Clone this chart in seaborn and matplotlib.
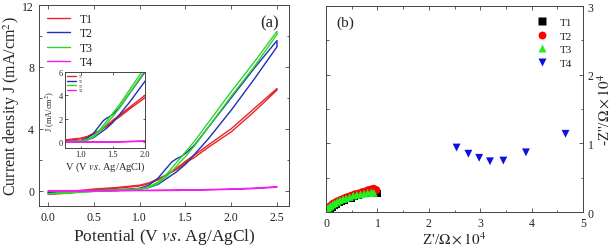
import numpy as np
import pandas as pd
import seaborn as sns
import matplotlib.pyplot as plt
from matplotlib.ticker import MultipleLocator

sns.set_style("ticks")
plt.rcParams['font.family'] = ['Liberation Serif', 'DejaVu Serif']
plt.rcParams['mathtext.fontset'] = 'stix'

# ---- CV data (a): forward scan then reverse scan ----
v_fwd = [0.0, 0.25, 0.5, 0.75, 1.0, 1.1, 1.2, 1.3, 1.35, 1.4, 1.45, 1.5, 1.6, 1.75, 2.0, 2.25, 2.5]
v_rev = v_fwd[::-1]

t1_fwd = [-0.15, -0.05, 0.1, 0.2, 0.35, 0.5, 0.75, 1.05, 1.25, 1.45, 1.65, 1.9, 2.3, 2.95, 4.0, 5.3, 6.6]
t1_rev = [6.5, 5.1, 3.8, 2.8, 2.15, 1.8, 1.55, 1.35, 1.2, 1.0, 0.7, 0.45, 0.3, 0.15, 0.05, -0.15, -0.25]

t2_fwd = [-0.1, -0.05, 0.0, 0.05, 0.15, 0.35, 0.8, 1.5, 1.85, 2.05, 2.2, 2.4, 2.95, 4.1, 6.0, 7.9, 9.7]
t2_rev = [9.3, 7.2, 5.2, 3.35, 2.35, 1.7, 1.45, 1.2, 1.0, 0.8, 0.4, 0.2, 0.1, 0.0, -0.05, -0.1, -0.1]

t3_fwd = [-0.2, -0.1, 0.0, 0.05, 0.1, 0.25, 0.55, 1.1, 1.45, 1.8, 2.15, 2.5, 3.2, 4.4, 6.4, 8.3, 10.3]
t3_rev = [10.1, 8.0, 6.1, 4.1, 2.9, 2.2, 1.9, 1.55, 1.25, 0.95, 0.45, 0.2, 0.1, 0.0, -0.05, -0.15, -0.2]

t4_fwd = [0.0, 0.0, 0.01, 0.01, 0.02, 0.02, 0.03, 0.03, 0.03, 0.04, 0.04, 0.04, 0.05, 0.07, 0.1, 0.16, 0.25]
t4_rev = [0.22, 0.13, 0.08, 0.05, 0.03, 0.02, 0.02, 0.01, 0.01, 0.01, 0.0, 0.0, 0.0, -0.01, -0.02, -0.03, -0.05]

# ---- EIS data (b), Z' and -Z'' in units of 1e4 ohm ----
t1_zr = [0.02, 0.05, 0.08, 0.12, 0.16, 0.2, 0.25, 0.3, 0.36, 0.42, 0.48, 0.55, 0.62, 0.7, 0.78, 0.86, 0.93, 1.0]
t1_zi = [0.02, 0.04, 0.06, 0.08, 0.1, 0.12, 0.14, 0.16, 0.18, 0.2, 0.21, 0.23, 0.25, 0.27, 0.28, 0.29, 0.29, 0.27]
t2_zr = [0.02, 0.05, 0.09, 0.13, 0.18, 0.23, 0.29, 0.35, 0.42, 0.49, 0.56, 0.63, 0.7, 0.76, 0.82, 0.88, 0.93, 0.98]
t2_zi = [0.04, 0.07, 0.09, 0.12, 0.14, 0.16, 0.18, 0.2, 0.22, 0.24, 0.26, 0.27, 0.29, 0.3, 0.32, 0.33, 0.34, 0.32]
t3_zr = [0.01, 0.03, 0.06, 0.09, 0.13, 0.17, 0.22, 0.27, 0.33, 0.39, 0.46, 0.53, 0.6, 0.67, 0.74, 0.81, 0.88, 0.93]
t3_zi = [0.03, 0.05, 0.07, 0.09, 0.11, 0.13, 0.15, 0.17, 0.19, 0.2, 0.22, 0.24, 0.25, 0.26, 0.27, 0.28, 0.29, 0.28]
t4_zr = [2.54, 2.77, 2.98, 3.19, 3.45, 3.89, 4.66]
t4_zi = [0.94, 0.85, 0.79, 0.74, 0.75, 0.87, 1.14]

labels = ["T1", "T2", "T3", "T4"]
line_colors = {"T1": "#e8262b", "T2": "#1f2fb8", "T3": "#2fd42f", "T4": "#f020e8"}
pt_colors = {"T1": "black", "T2": "red", "T3": "#22ee22", "T4": "#1010e0"}
pt_markers = {"T1": "s", "T2": "o", "T3": "^", "T4": "v"}

cv = []
for lab, f, r in zip(labels, [t1_fwd, t2_fwd, t3_fwd, t4_fwd], [t1_rev, t2_rev, t3_rev, t4_rev]):
    for v, j in zip(v_fwd + v_rev, f + r):
        cv.append({"V": v, "J": j, "sample": lab})
cv = pd.DataFrame(cv)

eis = pd.concat([
    pd.DataFrame({"Zr": zr, "Zi": zi, "sample": lab})
    for lab, zr, zi in zip(labels, [t1_zr, t2_zr, t3_zr, t4_zr], [t1_zi, t2_zi, t3_zi, t4_zi])
])

fig = plt.figure(figsize=(6.14, 2.51), dpi=100)
ax1 = fig.add_axes([0.0635, 0.175, 0.407, 0.801])
ax2 = fig.add_axes([0.531, 0.151, 0.4185, 0.821])
axi = fig.add_axes([0.106, 0.406, 0.130, 0.303])

spine_c = "#444444"

def style(ax, fs=8.5):
    for s in ax.spines.values():
        s.set_visible(True)
        s.set_color(spine_c)
        s.set_linewidth(0.7)
    ax.tick_params(which="both", direction="in", top=True, right=True, colors=spine_c,
                   labelcolor="#222222", labelsize=fs, width=0.6)
    ax.tick_params(which="major", length=3)
    ax.tick_params(which="minor", length=1.8)

# ---- panel (a) ----
sns.lineplot(data=cv, x="V", y="J", hue="sample", palette=line_colors, sort=False,
             estimator=None, lw=1.0, ax=ax1)
ax1.set_xlim(-0.1, 2.63)
ax1.set_ylim(-1, 12)
ax1.yaxis.set_major_locator(MultipleLocator(4))
ax1.yaxis.set_minor_locator(MultipleLocator(2))
ax1.set_xticks([0, 0.5, 1.0, 1.5, 2.0, 2.5])
ax1.set_xticklabels(["0.0", "0.5", "1.0", "1.5", "2.0", "2.5"])
style(ax1)
ax1.set_xlabel(r"Potential (V $\mathit{vs}$. Ag/AgCl)", fontsize=12.5, labelpad=2)
ax1.set_ylabel(r"Current density J (mA/cm$^2$)", fontsize=11.5, labelpad=0.5)
ax1.legend(loc="upper left", frameon=False, fontsize=8.5, handlelength=2.0,
           labelspacing=0.22, borderaxespad=0.25, handletextpad=0.8)
ax1.text(0.96, 0.915, "(a)", transform=ax1.transAxes, fontsize=12, ha="right", va="center")

# inset
sns.lineplot(data=cv, x="V", y="J", hue="sample", palette=line_colors, sort=False,
             estimator=None, lw=1.0, ax=axi)
axi.set_xlim(0.75, 2.0)
axi.set_ylim(-0.5, 6)
axi.set_xticks([1.0, 1.5, 2.0])
axi.set_xticklabels(["1.0", "1.5", "2.0"])
axi.set_yticks([0, 2, 4, 6])
style(axi, fs=6)
axi.tick_params(which="major", length=1.8, pad=1.5)
axi.set_xlabel(r"V (V $\mathit{vs}$. Ag/AgCl)", fontsize=7.5, labelpad=1)
axi.set_ylabel(r"J (mA/cm$^2$)", fontsize=6, labelpad=1)
axi.legend(loc="upper left", frameon=False, fontsize=2.5, handlelength=2.5,
           labelspacing=0.2, borderaxespad=0.2)

# ---- panel (b) ----
sns.scatterplot(data=eis, x="Zr", y="Zi", hue="sample", style="sample",
                palette=pt_colors, markers=pt_markers, s=32, edgecolor="none", ax=ax2)
ax2.set_xlim(0, 5)
ax2.set_ylim(0, 3)
ax2.xaxis.set_major_locator(MultipleLocator(1))
ax2.xaxis.set_minor_locator(MultipleLocator(0.5))
ax2.yaxis.set_major_locator(MultipleLocator(1))
ax2.yaxis.set_minor_locator(MultipleLocator(0.5))
style(ax2)
ax2.tick_params(labelleft=False, labelright=True)
ax2.yaxis.set_label_position("right")
ax2.set_xlabel(r"Z'/$\Omega\times10^4$", fontsize=11, labelpad=1)
ax2.set_ylabel(r"-Z''/$\Omega\times10^4$", fontsize=11, labelpad=2)
ax2.legend(loc="upper right", frameon=False, fontsize=8, markerscale=1.0,
           labelspacing=0.35, handletextpad=0.6, borderaxespad=0.6)
ax2.text(0.04, 0.92, "(b)", transform=ax2.transAxes, fontsize=11, ha="left", va="center")

fig.savefig("out.png", dpi=100)
